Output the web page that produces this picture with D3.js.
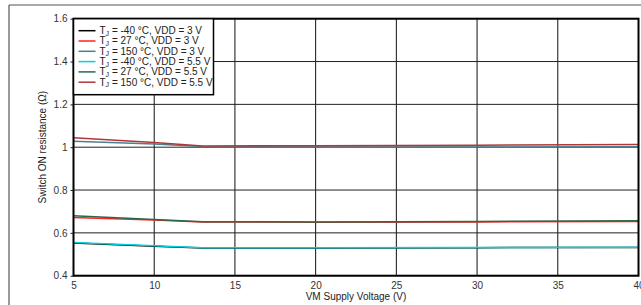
<html>
<head>
  <script src="https://d3js.org/d3.v7.min.js"></script>
  <style>
    body { margin: 0; background: #fff; }
    text { font-family: "Liberation Sans", Arial, sans-serif; }
  </style>
</head>
<body>
<svg id="chart" width="641" height="305"></svg>
<script>
// supply voltage sample points (V)
var vm = [5, 10, 13, 20, 30, 40]

// switch ON resistance (ohm) per series
var rNeg40_3V  = [0.553, 0.538, 0.529, 0.529, 0.531, 0.532]
var r27_3V     = [0.672, 0.660, 0.651, 0.650, 0.651, 0.653]
var r150_3V    = [1.028, 1.015, 1.003, 1.001, 1.001, 1.002]
var rNeg40_55V = [0.555, 0.540, 0.530, 0.530, 0.532, 0.533]
var r27_55V    = [0.680, 0.662, 0.652, 0.651, 0.653, 0.657]
var r150_55V   = [1.044, 1.022, 1.006, 1.007, 1.009, 1.013]

var seriesNames = [
  ['-40 °C', '3 V'], ['27 °C', '3 V'], ['150 °C', '3 V'],
  ['-40 °C', '5.5 V'], ['27 °C', '5.5 V'], ['150 °C', '5.5 V']
]
var seriesColors = ['#000000', '#ff2020', '#4a8090', '#00d0e0', '#2a6a48', '#b03838']
var seriesValues = [rNeg40_3V, r27_3V, r150_3V, rNeg40_55V, r27_55V, r150_55V]

var xTicks = [5, 10, 15, 20, 25, 30, 35, 40]
var yTicks = [0.4, 0.6, 0.8, 1, 1.2, 1.4, 1.6]

var margin = { left: 73.5, right: 2.5, top: 18.7, bottom: 29.3 }
var width = 641, height = 305

var svg = d3.select('#chart')

// outer frame pieces
svg.append('line').attr('x1', 9).attr('x2', 641).attr('y1', 5).attr('y2', 5)
  .attr('stroke', '#555').attr('stroke-width', 1.2)
svg.append('line').attr('x1', 9).attr('x2', 9).attr('y1', 5).attr('y2', 305)
  .attr('stroke', '#555').attr('stroke-width', 1.2)

var x = d3.scaleLinear().domain([5, 40]).range([margin.left, width - margin.right])
var y = d3.scaleLinear().domain([0.4, 1.6]).range([height - margin.bottom, margin.top])

var g = svg.append('g')

// grid
g.selectAll('.vgrid').data(xTicks).enter().append('line')
  .attr('x1', d => x(d)).attr('x2', d => x(d))
  .attr('y1', y(1.6)).attr('y2', y(0.4))
  .attr('stroke', '#111').attr('stroke-width', 1)
g.selectAll('.hgrid').data(yTicks).enter().append('line')
  .attr('x1', x(5)).attr('x2', x(40))
  .attr('y1', d => y(d)).attr('y2', d => y(d))
  .attr('stroke', '#222').attr('stroke-width', 1)

// axes
var xAxis = d3.axisBottom(x).tickValues(xTicks).tickSize(0).tickPadding(6)
var yAxis = d3.axisLeft(y).tickValues(yTicks).tickSize(3).tickPadding(3)
  .tickFormat(d3.format('~g'))

var gx = g.append('g').attr('transform', 'translate(0,' + y(0.4) + ')').call(xAxis)
var gy = g.append('g').attr('transform', 'translate(' + x(5) + ',0)').call(yAxis)
;[gx, gy].forEach(function (a) {
  a.select('.domain').remove()
  a.selectAll('text').attr('font-size', 10).attr('fill', '#333')
    .style('font-family', '"Liberation Sans", Arial, sans-serif')
  a.selectAll('line').attr('stroke', '#222')
})

// series lines
var line = d3.line().x((d, i) => x(vm[i])).y(d => y(d))
seriesValues.forEach(function (vals, k) {
  g.append('path').datum(vals)
    .attr('d', line)
    .attr('fill', 'none')
    .attr('stroke', seriesColors[k])
    .attr('stroke-width', 1.5)
})

// plot border
g.append('rect')
  .attr('x', x(5)).attr('y', y(1.6))
  .attr('width', x(40) - x(5)).attr('height', y(0.4) - y(1.6))
  .attr('fill', 'none').attr('stroke', '#000').attr('stroke-width', 2)

// legend
var lg = g.append('g').attr('transform', 'translate(' + x(5) + ',' + y(1.6) + ')')
lg.append('rect').attr('x', 0).attr('y', 0).attr('width', 140).attr('height', 76)
  .attr('fill', '#fff').attr('stroke', '#000').attr('stroke-width', 1.5)
seriesNames.forEach(function (n, k) {
  var yy = 12 + k * 10.3
  lg.append('line').attr('x1', 5).attr('x2', 22).attr('y1', yy).attr('y2', yy)
    .attr('stroke', seriesColors[k]).attr('stroke-width', 1.5)
  var t = lg.append('text').attr('x', 26).attr('y', yy + 3.5)
    .attr('font-size', 10).attr('fill', '#222')
  t.append('tspan').text('T')
  t.append('tspan').attr('font-size', 7).attr('dy', 1.5).text('J')
  t.append('tspan').attr('dy', -1.5).text(' = ' + n[0] + ', VDD = ' + n[1])
})

// axis titles
svg.append('text')
  .attr('x', (x(5) + x(40)) / 2).attr('y', 300)
  .attr('text-anchor', 'middle').attr('font-size', 10).attr('fill', '#222')
  .text('VM Supply Voltage (V)')
svg.append('text')
  .attr('transform', 'translate(46,' + (y(1.6) + y(0.4)) / 2 + ') rotate(-90)')
  .attr('text-anchor', 'middle').attr('font-size', 10).attr('fill', '#222')
  .text('Switch ON resistance (Ω)')
</script>
</body>
</html>
